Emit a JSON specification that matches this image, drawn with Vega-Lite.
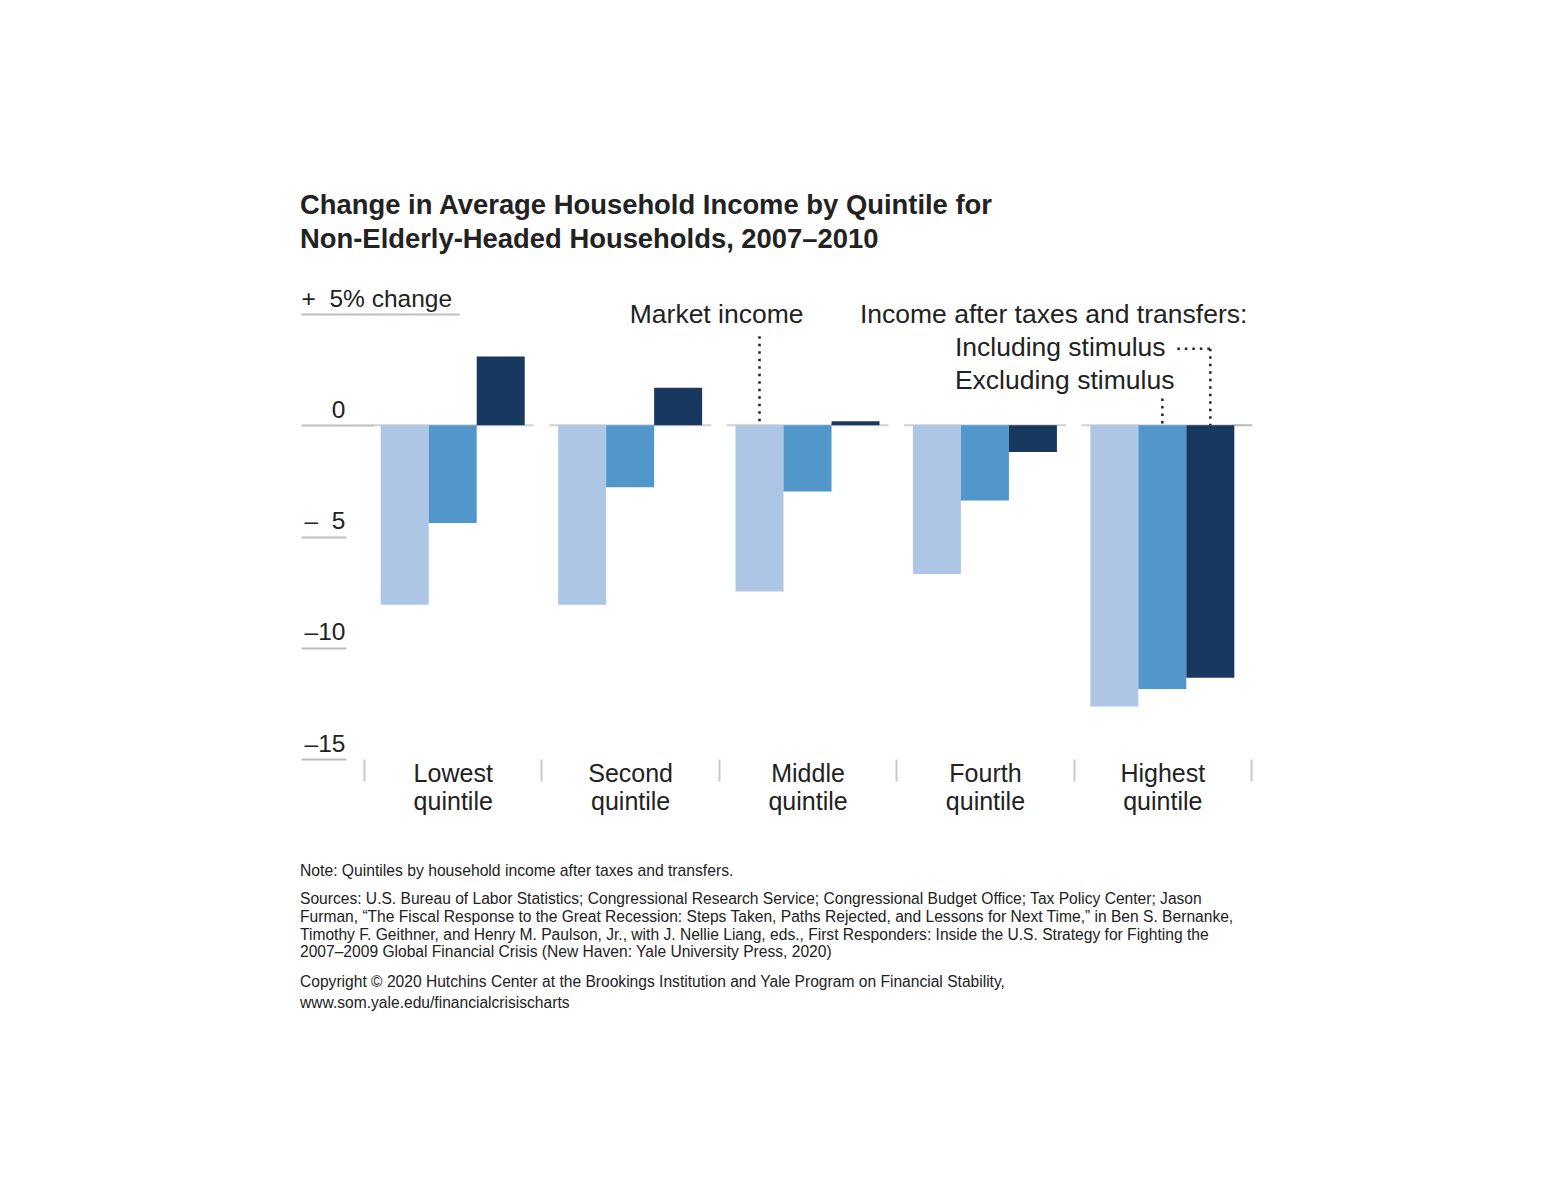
{
  "$schema": "https://vega.github.io/schema/vega-lite/v6.json",
  "padding": {"left": 300, "top": 191, "right": 10, "bottom": 10},
  "background": "white",
  "title": {
    "text": ["Change in Average Household Income by Quintile for", "Non-Elderly-Headed Households, 2007–2010"],
    "anchor": "start",
    "font": "Liberation Sans",
    "fontSize": 27.4,
    "fontWeight": "bold",
    "color": "#222222",
    "lineHeight": 34,
    "offset": 33
  },
  "datasets": {
    "income": [
      {"quintile": "Lowest quintile", "series": "Market income", "change": -8.07},
      {"quintile": "Lowest quintile", "series": "Excluding stimulus", "change": -4.39},
      {"quintile": "Lowest quintile", "series": "Including stimulus", "change": 3.09},
      {"quintile": "Second quintile", "series": "Market income", "change": -8.07},
      {"quintile": "Second quintile", "series": "Excluding stimulus", "change": -2.79},
      {"quintile": "Second quintile", "series": "Including stimulus", "change": 1.69},
      {"quintile": "Middle quintile", "series": "Market income", "change": -7.47},
      {"quintile": "Middle quintile", "series": "Excluding stimulus", "change": -2.98},
      {"quintile": "Middle quintile", "series": "Including stimulus", "change": 0.18},
      {"quintile": "Fourth quintile", "series": "Market income", "change": -6.68},
      {"quintile": "Fourth quintile", "series": "Excluding stimulus", "change": -3.38},
      {"quintile": "Fourth quintile", "series": "Including stimulus", "change": -1.2},
      {"quintile": "Highest quintile", "series": "Market income", "change": -12.64},
      {"quintile": "Highest quintile", "series": "Excluding stimulus", "change": -11.85},
      {"quintile": "Highest quintile", "series": "Including stimulus", "change": -11.35}
    ],
    "one": [{}]
  },
  "vconcat": [
    {
      "title": {
        "text": ["Copyright © 2020 Hutchins Center at the Brookings Institution and Yale Program on Financial Stability,", "www.som.yale.edu/financialcrisischarts"],
        "orient": "bottom",
        "anchor": "start",
        "font": "Liberation Sans",
        "fontSize": 15.6,
        "fontWeight": "normal",
        "color": "#222222",
        "lineHeight": 21,
        "offset": 14
      },
      "vconcat": [
        {
          "width": 953,
          "height": 445,
          "title": {
            "text": "Note: Quintiles by household income after taxes and transfers.",
            "orient": "bottom",
            "anchor": "start",
            "font": "Liberation Sans",
            "fontSize": 15.7,
            "fontWeight": "normal",
            "color": "#222222",
            "offset": 49,
            "subtitle": [
              "Sources: U.S. Bureau of Labor Statistics; Congressional Research Service; Congressional Budget Office; Tax Policy Center; Jason",
              "Furman, “The Fiscal Response to the Great Recession: Steps Taken, Paths Rejected, and Lessons for Next Time,” in Ben S. Bernanke,",
              "Timothy F. Geithner, and Henry M. Paulson, Jr., with J. Nellie Liang, eds., First Responders: Inside the U.S. Strategy for Fighting the",
              "2007–2009 Global Financial Crisis (New Haven: Yale University Press, 2020)"
            ],
            "subtitleFont": "Liberation Sans",
            "subtitleFontSize": 15.6,
            "subtitleColor": "#222222",
            "subtitleLineHeight": 17.7,
            "subtitlePadding": 13
          },
          "data": {"name": "income"},
          "layer": [
            {
              "transform": [{"filter": "datum.series === 'Market income'"}],
              "mark": {"type": "tick", "size": 162, "thickness": 2, "color": "#bdbdbd"},
              "encoding": {
                "x": {"field": "quintile", "type": "nominal"},
                "y": {"datum": 0, "type": "quantitative"}
              }
            },
            {
              "data": {"name": "one"},
              "mark": {"type": "rule", "color": "#bdbdbd", "strokeWidth": 2, "xOffset": 70, "x2Offset": 90},
              "encoding": {
                "x": {"datum": "Highest quintile", "type": "nominal"},
                "x2": {"datum": "Highest quintile"},
                "y": {"datum": 0, "type": "quantitative"}
              }
            },
            {
              "mark": {"type": "bar"},
              "encoding": {
                "x": {
                  "field": "quintile",
                  "type": "nominal",
                  "scale": {
                    "domain": ["Lowest quintile", "Second quintile", "Middle quintile", "Fourth quintile", "Highest quintile"],
                    "paddingInner": 0,
                    "paddingOuter": 0.186,
                    "align": 0.955
                  },
                  "axis": {
                    "title": null,
                    "domain": false,
                    "grid": false,
                    "tickBand": "extent",
                    "ticks": true,
                    "tickSize": 22,
                    "tickColor": "#c8c8c8",
                    "tickWidth": 2,
                    "labelExpr": "split(datum.label, ' ')",
                    "labelFont": "Liberation Sans",
                    "labelFontSize": 25,
                    "labelColor": "#222222",
                    "labelAlign": "center",
                    "labelBaseline": "alphabetic",
                    "labelPadding": 0,
                    "labelLineHeight": 28.5,
                    "labelOverlap": false,
                    "labelAngle": 0
                  }
                },
                "xOffset": {
                  "field": "series",
                  "type": "nominal",
                  "scale": {
                    "domain": ["Market income", "Excluding stimulus", "Including stimulus"],
                    "paddingInner": 0,
                    "paddingOuter": 0.348
                  }
                },
                "y": {
                  "field": "change",
                  "type": "quantitative",
                  "scale": {"domain": [-15, 5], "nice": false},
                  "axis": {
                    "title": null,
                    "values": [5, 0, -5, -10, -15],
                    "domain": false,
                    "grid": false,
                    "ticks": true,
                    "tickColor": "#bdbdbd",
                    "tickWidth": 2,
                    "tickSize": {"expr": "datum.value == 5 ? -158 : (datum.value == 0 ? -72 : -45)"},
                    "labelPadding": {"expr": "datum.value == 5 ? 158 : (datum.value == 0 ? 28 : 1)"},
                    "labelAlign": {"condition": {"test": "datum.value == 5", "value": "left"}, "value": "right"},
                    "labelExpr": "datum.value == 5 ? '+\u20075% change' : (datum.value == 0 ? '0' : (datum.value == -5 ? '\u2013\u20075' : '\u2013' + abs(datum.value)))",
                    "labelBaseline": "alphabetic",
                    "labelOffset": -8,
                    "labelFont": "Liberation Sans",
                    "labelFontSize": 24.5,
                    "labelColor": "#222222"
                  }
                },
                "color": {
                  "field": "series",
                  "type": "nominal",
                  "scale": {
                    "domain": ["Market income", "Excluding stimulus", "Including stimulus"],
                    "range": ["#adc6e5", "#5297cc", "#183860"]
                  },
                  "legend": null
                }
              }
            },
            {
              "data": {"name": "one"},
              "mark": {"type": "rule", "color": "#222222", "strokeWidth": 2.5, "strokeDash": [2.5, 5]},
              "encoding": {
                "x": {"datum": "Middle quintile", "type": "nominal"},
                "xOffset": {"datum": "Market income", "type": "nominal"},
                "y": {"datum": 4.0, "type": "quantitative"},
                "y2": {"datum": 0}
              }
            },
            {
              "data": {"name": "one"},
              "mark": {"type": "rule", "color": "#222222", "strokeWidth": 2.5, "strokeDash": [2.5, 5]},
              "encoding": {
                "x": {"datum": "Highest quintile", "type": "nominal"},
                "xOffset": {"datum": "Excluding stimulus", "type": "nominal"},
                "y": {"datum": 1.2, "type": "quantitative"},
                "y2": {"datum": 0}
              }
            },
            {
              "data": {"name": "one"},
              "mark": {"type": "rule", "color": "#222222", "strokeWidth": 2.5, "strokeDash": [2.5, 5]},
              "encoding": {
                "x": {"datum": "Highest quintile", "type": "nominal"},
                "xOffset": {"datum": "Including stimulus", "type": "nominal"},
                "y": {"datum": 3.44, "type": "quantitative"},
                "y2": {"datum": 0}
              }
            },
            {
              "data": {"name": "one"},
              "mark": {"type": "rule", "color": "#222222", "strokeWidth": 2.5, "strokeDash": [2.5, 5], "xOffset": 15, "x2Offset": 48},
              "encoding": {
                "x": {"datum": "Highest quintile", "type": "nominal"},
                "x2": {"datum": "Highest quintile"},
                "y": {"datum": 3.44, "type": "quantitative"}
              }
            },
            {
              "data": {"name": "one"},
              "mark": {"type": "text", "align": "right", "baseline": "alphabetic", "dx": -4, "font": "Liberation Sans", "fontSize": 26.5, "color": "#222222"},
              "encoding": {
                "x": {"datum": "Middle quintile", "type": "nominal"},
                "y": {"datum": 4.6, "type": "quantitative"},
                "text": {"value": "Market income"}
              }
            },
            {
              "data": {"name": "one"},
              "mark": {"type": "text", "align": "right", "baseline": "alphabetic", "dx": 85, "font": "Liberation Sans", "fontSize": 26.5, "color": "#222222"},
              "encoding": {
                "x": {"datum": "Highest quintile", "type": "nominal"},
                "y": {"datum": 4.6, "type": "quantitative"},
                "text": {"value": "Income after taxes and transfers:"}
              }
            },
            {
              "data": {"name": "one"},
              "mark": {"type": "text", "align": "left", "baseline": "alphabetic", "dx": -30, "font": "Liberation Sans", "fontSize": 26.5, "color": "#222222"},
              "encoding": {
                "x": {"datum": "Fourth quintile", "type": "nominal"},
                "y": {"datum": 3.13, "type": "quantitative"},
                "text": {"value": "Including stimulus"}
              }
            },
            {
              "data": {"name": "one"},
              "mark": {"type": "text", "align": "left", "baseline": "alphabetic", "dx": -30, "font": "Liberation Sans", "fontSize": 26.5, "color": "#222222"},
              "encoding": {
                "x": {"datum": "Fourth quintile", "type": "nominal"},
                "y": {"datum": 1.65, "type": "quantitative"},
                "text": {"value": "Excluding stimulus"}
              }
            }
          ]
        }
      ]
    }
  ],
  "config": {
    "view": {"stroke": null},
    "axis": {"grid": false},
    "font": "Liberation Sans"
  }
}
